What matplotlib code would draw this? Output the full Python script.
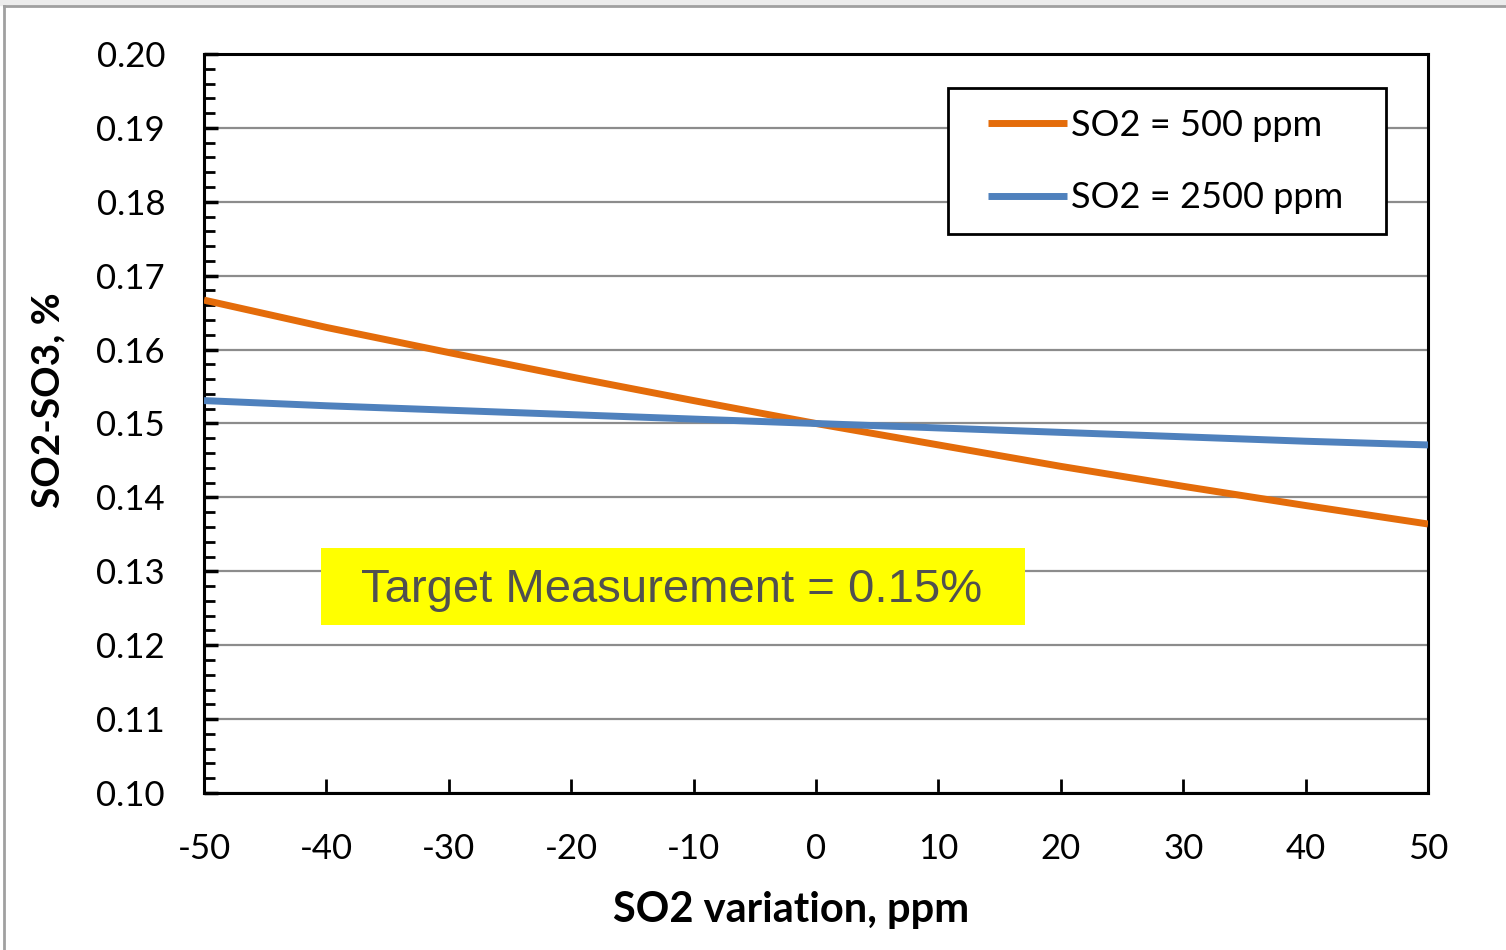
import numpy as np
import matplotlib.pyplot as plt
from matplotlib.patches import Rectangle
from matplotlib.lines import Line2D
from matplotlib.ticker import MultipleLocator

# values
so2_variation = [-50, -40, -30, -20, -10, 0, 10, 20, 30, 40, 50]
so3_500ppm = [0.1667, 0.1630, 0.1596, 0.1563, 0.1531, 0.1500,
              0.1471, 0.1442, 0.1415, 0.1389, 0.1364]
so3_2500ppm = [0.1531, 0.1524, 0.1518, 0.1512, 0.1506, 0.1500,
               0.1494, 0.1488, 0.1482, 0.1476, 0.1471]
series_labels = ["SO2 = 500 ppm", "SO2 = 2500 ppm"]
target_text = "Target Measurement = 0.15%"

orange = "#E46C0A"
blue = "#4F81BD"
tick_font = "Lato"


def main():
    fig = plt.figure(figsize=(15.06, 9.5), dpi=100)
    ax = fig.add_axes([204 / 1506, 1 - 793 / 950, 1224 / 1506, 739 / 950])

    ax.plot(so2_variation, so3_500ppm, color=orange, lw=5,
            solid_capstyle="butt", label=series_labels[0], zorder=3)
    ax.plot(so2_variation, so3_2500ppm, color=blue, lw=5,
            solid_capstyle="butt", label=series_labels[1], zorder=3)

    ax.set_xlim(-50, 50)
    ax.set_ylim(0.10, 0.20)
    ax.xaxis.set_major_locator(MultipleLocator(10))
    ax.yaxis.set_major_locator(MultipleLocator(0.01))
    ax.yaxis.set_minor_locator(MultipleLocator(0.002))
    ax.yaxis.set_major_formatter(plt.FuncFormatter(lambda v, p: f"{v:.2f}"))
    ax.xaxis.set_major_formatter(plt.FuncFormatter(lambda v, p: f"{v:.0f}"))

    ax.grid(axis="y", which="major", color="#8c8c8c", lw=1.6, zorder=1)
    ax.set_axisbelow(True)

    for s in ax.spines.values():
        s.set_linewidth(2.2)
        s.set_color("black")

    ax.tick_params(axis="y", which="major", direction="in", length=10,
                   width=2.5, pad=28, labelsize=25)
    ax.tick_params(axis="y", which="minor", direction="in", length=8, width=2)
    ax.tick_params(axis="x", which="major", direction="in", length=10,
                   width=2, pad=29, labelsize=25)
    for lab in ax.get_xticklabels() + ax.get_yticklabels():
        lab.set_fontfamily(tick_font)

    ax.set_xlabel("SO2 variation, ppm", fontsize=30, fontweight="bold",
                  family=tick_font, va="center")
    ax.set_ylabel("SO2-SO3, %", fontsize=28, fontweight="bold",
                  family=tick_font, va="center")
    ax.xaxis.set_label_coords(0.4796, -0.1583)
    ax.yaxis.set_label_coords(-0.1275, 0.5318)

    # legend: entries without frame, box drawn separately
    ax.legend(loc="center left", bbox_to_anchor=(784 / 1224, (793 - 161.5) / 739),
              prop={"family": tick_font, "size": 26},
              handlelength=2.2, handletextpad=0.1, borderpad=0,
              labelspacing=1.09, borderaxespad=0, frameon=False)
    ax.add_patch(Rectangle((744 / 1224, (793 - 234) / 739), 438 / 1224, 146 / 739,
                           transform=ax.transAxes, facecolor="white",
                           edgecolor="black", lw=2, zorder=4.5))

    # yellow annotation box
    ax.add_patch(Rectangle((0.0956, 0.2273), 0.5752, 0.1042,
                           transform=ax.transAxes, facecolor="#FFFF00",
                           edgecolor="none", zorder=4))
    ax.text(0.382, 0.2745, target_text, transform=ax.transAxes,
            ha="center", va="center", fontsize=34, color="#505050",
            family="Liberation Sans", zorder=5)

    # slide frame
    fig.add_artist(Line2D([4 / 1506, 4 / 1506], [0, 1 - 6 / 950],
                          transform=fig.transFigure, color="#a0a0a0", lw=2))
    fig.add_artist(Line2D([4 / 1506, 1], [1 - 6 / 950, 1 - 6 / 950],
                          transform=fig.transFigure, color="#a0a0a0", lw=2))
    fig.add_artist(Rectangle((0, 1 - 5 / 950), 1, 5 / 950,
                             transform=fig.transFigure, color="#ececec"))

    fig.savefig("out.png", dpi=100)
    plt.close(fig)


if __name__ == "__main__":
    main()
